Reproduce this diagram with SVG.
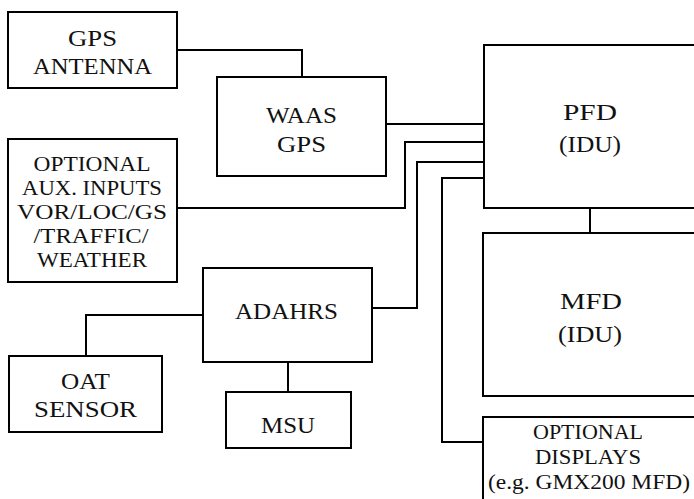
<svg xmlns="http://www.w3.org/2000/svg" width="694" height="499" viewBox="0 0 694 499">
<style>
.box{fill:#fff;stroke:#000;stroke-width:2}
.ln{fill:none;stroke:#000;stroke-width:2}
text{font-family:"Liberation Serif","DejaVu Serif",serif;fill:#111;text-anchor:middle;font-size:23px}
.s{font-size:20px}
</style>
<rect width="694" height="499" fill="#fff"/>
<g id="connectors">
<path class="ln" d="M177 50H302V77"/>
<path class="ln" d="M386 124H484"/>
<path class="ln" d="M177 208H405V142H484"/>
<path class="ln" d="M372 308H417V162H484"/>
<path class="ln" d="M483 442H442V178H484"/>
<path class="ln" d="M590 208V233"/>
<path class="ln" d="M203 315H86V356"/>
<path class="ln" d="M288 362V392"/>
</g>
<g id="gps-antenna">
<rect class="box" x="8" y="12" width="169" height="76"/>
<text x="92.5" y="46" textLength="49" lengthAdjust="spacingAndGlyphs">GPS</text>
<text x="92.5" y="74" textLength="119" lengthAdjust="spacingAndGlyphs">ANTENNA</text>
</g>
<g id="waas-gps">
<rect class="box" x="217" y="77" width="169" height="99"/>
<text x="301.5" y="123" textLength="71" lengthAdjust="spacingAndGlyphs">WAAS</text>
<text x="301.5" y="152" textLength="49" lengthAdjust="spacingAndGlyphs">GPS</text>
</g>
<g id="pfd">
<rect class="box" x="484" y="45" width="220" height="163"/>
<text x="590" y="120" textLength="54" lengthAdjust="spacingAndGlyphs">PFD</text>
<text x="590" y="152" textLength="62" lengthAdjust="spacingAndGlyphs">(IDU)</text>
</g>
<g id="aux-inputs">
<rect class="box" x="8" y="139" width="169" height="143"/>
<text class="s" x="92" y="171" textLength="117" lengthAdjust="spacingAndGlyphs">OPTIONAL</text>
<text class="s" x="92" y="195" textLength="140" lengthAdjust="spacingAndGlyphs">AUX. INPUTS</text>
<text class="s" x="92" y="219" textLength="150" lengthAdjust="spacingAndGlyphs">VOR/LOC/GS</text>
<text class="s" x="91" y="243" textLength="115" lengthAdjust="spacingAndGlyphs">/TRAFFIC/</text>
<text class="s" x="92" y="267" textLength="110" lengthAdjust="spacingAndGlyphs">WEATHER</text>
</g>
<g id="mfd">
<rect class="box" x="483" y="233" width="220" height="163"/>
<text x="591" y="309" textLength="62" lengthAdjust="spacingAndGlyphs">MFD</text>
<text x="590" y="342" textLength="64" lengthAdjust="spacingAndGlyphs">(IDU)</text>
</g>
<g id="adahrs">
<rect class="box" x="203" y="268" width="169" height="94"/>
<text x="286.5" y="319" textLength="103" lengthAdjust="spacingAndGlyphs">ADAHRS</text>
</g>
<g id="oat-sensor">
<rect class="box" x="9" y="356" width="153" height="76"/>
<text x="85.5" y="389" textLength="49" lengthAdjust="spacingAndGlyphs">OAT</text>
<text x="85.5" y="417" textLength="103" lengthAdjust="spacingAndGlyphs">SENSOR</text>
</g>
<g id="msu">
<rect class="box" x="226" y="392" width="125" height="56"/>
<text x="288" y="433" textLength="54" lengthAdjust="spacingAndGlyphs">MSU</text>
</g>
<g id="optional-displays">
<rect class="box" x="483" y="417" width="220" height="100"/>
<text class="s" x="588" y="439" textLength="110" lengthAdjust="spacingAndGlyphs">OPTIONAL</text>
<text class="s" x="588" y="464" textLength="106" lengthAdjust="spacingAndGlyphs">DISPLAYS</text>
<text class="s" x="589" y="489" textLength="202" lengthAdjust="spacingAndGlyphs">(e.g. GMX200 MFD)</text>
</g>
</svg>
